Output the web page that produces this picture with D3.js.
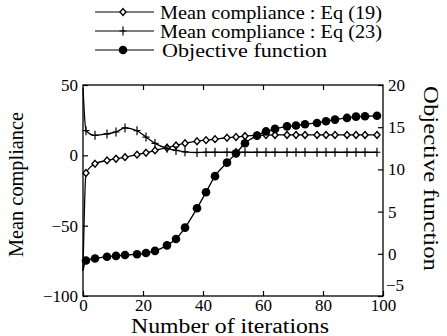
<!DOCTYPE html>
<html>
<head>
<meta charset="utf-8">
<script src="https://cdn.jsdelivr.net/npm/d3@7"></script>
<style>
body { margin:0; background:#fff; }
text { font-family: "Liberation Serif", "Times New Roman", serif; fill:#000; }
</style>
</head>
<body>
<div id="chart"></div>
<script>
////////////////////////////////////////////////////////////
//////////////////////// Data //////////////////////////////
////////////////////////////////////////////////////////////

// iteration 0 has no marker, every other point is marked
var iterations = [0, 1, 4, 8, 11, 14, 18, 21, 24, 28, 31, 34, 38, 41, 44, 48, 51, 54, 58, 61,
                  64, 68, 71, 74, 78, 81, 84, 88, 91, 94, 98];

// Mean compliance : Eq (19)  (left axis)
var eq19 = [-82, -12.6, -6, -3.6, -2.4, -1.3, 0.5, 1.8, 3.5, 5.4, 7, 8.6, 10, 10.8, 11.5, 12.5,
            13, 13.7, 14.2, 14.4, 14.5, 14.5, 14.5, 14.5, 14.5, 14.5, 14.5, 14.5, 14.5, 14.5, 14.5];

// Mean compliance : Eq (23)  (left axis)
var eq23 = [48, 17.5, 14.2, 15.2, 16.6, 19.5, 17.5, 13, 8.5, 5, 3.5, 2.5, 2, 2.2, 2.2, 2.2,
            2.2, 2.2, 2.2, 2.2, 2.2, 2.2, 2.2, 2.2, 2.2, 2.2, 2.2, 2.2, 2.2, 2.2, 2.2];

// Objective function  (right axis)
var objective = [-2, -0.8, -0.55, -0.35, -0.25, -0.15, -0.05, 0.1, 0.35, 1.0, 1.75, 3.1, 5.4, 7.3,
                 9.2, 10.8, 11.9, 13.1, 14.0, 14.5, 14.8, 15.1, 15.2, 15.35, 15.5, 15.7, 15.9,
                 16.1, 16.25, 16.3, 16.35];

var xTicks = [0, 20, 40, 60, 80, 100],
    leftTicks = [50, 0, -50, -100],
    rightTicks = [20, 15, 10, 5, 0, -5];

var legendNames = ["Mean compliance : Eq (19)", "Mean compliance : Eq (23)", "Objective function"];

////////////////////////////////////////////////////////////
//////////////////////// Set-Up ////////////////////////////
////////////////////////////////////////////////////////////

var margin = {left:83, top:85, right:64, bottom:40},
    width = 447 - margin.left - margin.right,
    height = 336 - margin.top - margin.bottom;

var x = d3.scaleLinear().domain([0, 100]).range([0, width]);
var yL = d3.scaleLinear().domain([-100, 50]).range([height, 0]);
var yR = d3.scaleLinear().domain([-5, 20]).range([height, 0]);

var svg = d3.select("#chart").append("svg")
    .attr("width", 447)
    .attr("height", 336);

var g = svg.append("g")
    .attr("transform", "translate(" + margin.left + "," + margin.top + ")");

////////////////////////////////////////////////////////////
//////////////////////// Axes //////////////////////////////
////////////////////////////////////////////////////////////

g.append("rect")
    .attr("width", width).attr("height", height)
    .style("fill", "none").style("stroke", "#000").style("stroke-width", 1.3);

var tickLen = 5;

function styleAxis(sel) {
  sel.select(".domain").remove();
  sel.selectAll("line").style("stroke", "#000").style("stroke-width", 1.2);
  sel.selectAll("text").style("font-family", "Liberation Serif").style("font-size", "17px").style("fill", "#000");
}

g.append("g")
    .attr("transform", "translate(0," + height + ")")
    .call(d3.axisBottom(x).tickValues(xTicks).tickSize(-tickLen).tickPadding(3))
    .call(styleAxis);

g.append("g")
    .call(d3.axisTop(x).tickValues(xTicks.slice(1, -1)).tickSize(-tickLen).tickFormat(""))
    .call(styleAxis);

g.append("g")
    .call(d3.axisLeft(yL).tickValues(leftTicks).tickSize(-tickLen).tickPadding(5))
    .call(styleAxis);

var rightAxis = g.append("g")
    .attr("transform", "translate(" + width + ",0)")
    .call(d3.axisRight(yR).tickValues(rightTicks).tickSize(-tickLen).tickPadding(5))
    .call(styleAxis);

// the -5 label sits raised next to the 100 label
rightAxis.selectAll(".tick").filter(function(d) { return d === -5; })
    .select("text").attr("dy", "-0.3em").attr("x", 3);

// Axis titles
g.append("text")
    .attr("transform", "translate(-60," + (height/2 - 6) + ") rotate(-90)")
    .style("text-anchor", "middle")
    .style("font-size", "20px")
    .attr("textLength", 145)
    .attr("lengthAdjust", "spacingAndGlyphs")
    .text("Mean compliance");

g.append("text")
    .attr("transform", "translate(" + (width + 41) + "," + (height/2 - 12) + ") rotate(90)")
    .style("text-anchor", "middle")
    .style("font-size", "20px")
    .attr("textLength", 185)
    .attr("lengthAdjust", "spacingAndGlyphs")
    .text("Objective function");

g.append("text")
    .attr("x", width/2 - 3).attr("y", height + 37)
    .style("text-anchor", "middle")
    .style("font-size", "20px")
    .attr("textLength", 198)
    .attr("lengthAdjust", "spacingAndGlyphs")
    .text("Number of iterations");

////////////////////////////////////////////////////////////
//////////////////////// Lines /////////////////////////////
////////////////////////////////////////////////////////////

function makeLine(yScale) {
  return d3.line()
    .x(function(d, i) { return x(iterations[i]); })
    .y(function(d) { return yScale(d); })
    .curve(d3.curveMonotoneX);
}

var series = [
  {values: eq19, scale: yL, marker: "diamond"},
  {values: eq23, scale: yL, marker: "cross"},
  {values: objective, scale: yR, marker: "dot"}
];

function drawMarker(sel, type) {
  if (type === "diamond") {
    sel.append("path")
      .attr("d", "M0,-3.4L3,0L0,3.4L-3,0Z")
      .style("fill", "#fff").style("stroke", "#000").style("stroke-width", 1.4);
  } else if (type === "cross") {
    sel.append("path")
      .attr("d", "M0,-4.5V4.5M-3.5,0H3.5")
      .style("fill", "none").style("stroke", "#000").style("stroke-width", 1.2);
  } else {
    sel.append("circle").attr("r", 4.3).style("fill", "#000");
  }
}

series.forEach(function(s) {
  g.append("path")
    .datum(s.values)
    .attr("d", makeLine(s.scale))
    .style("fill", "none")
    .style("stroke", "#000")
    .style("stroke-width", 1.3);

  g.selectAll(null)
    .data(s.values.slice(1))
    .enter().append("g")
    .attr("transform", function(d, i) { return "translate(" + x(iterations[i+1]) + "," + s.scale(d) + ")"; })
    .each(function() { drawMarker(d3.select(this), s.marker); });
});

////////////////////////////////////////////////////////////
//////////////////////// Legend ////////////////////////////
////////////////////////////////////////////////////////////

var legendY = [12, 31, 50],
    legendLen = [222, 222, 165];

var legend = svg.selectAll("g.legend")
    .data(series)
    .enter().append("g")
    .attr("class", "legend")
    .attr("transform", function(d, i) { return "translate(0," + legendY[i] + ")"; });

legend.append("line")
    .attr("x1", 95).attr("x2", 154)
    .style("stroke", "#000").style("stroke-width", 1.2);

legend.append("g")
    .attr("transform", "translate(123,0)")
    .each(function(d) { drawMarker(d3.select(this), d.marker); });

legend.append("text")
    .attr("x", function(d, i) { return i === 2 ? 162 : 160; })
    .attr("dy", "0.35em")
    .style("font-size", "19px")
    .attr("textLength", function(d, i) { return legendLen[i]; })
    .attr("lengthAdjust", "spacingAndGlyphs")
    .text(function(d, i) { return legendNames[i]; });
</script>
</body>
</html>
